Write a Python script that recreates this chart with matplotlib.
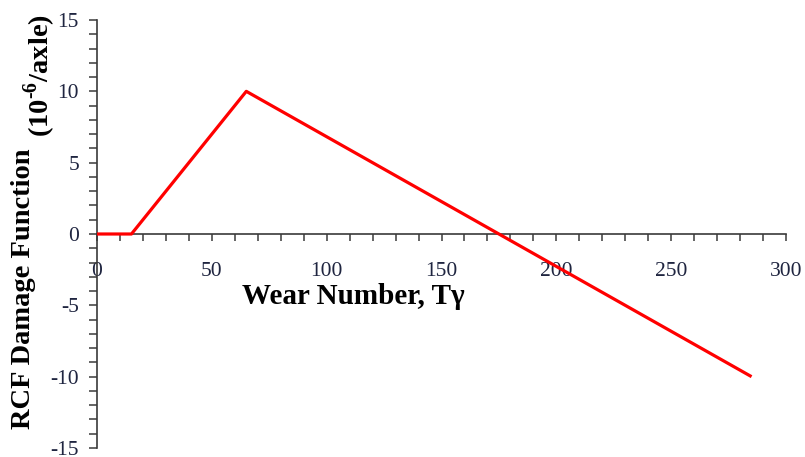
import matplotlib
matplotlib.use("Agg")
import matplotlib.pyplot as plt
from matplotlib.ticker import MultipleLocator

# Data
wear_number = [0, 15, 65, 285]
damage = [0, 0, 10, -10]
x_ticks = [0, 50, 100, 150, 200, 250, 300]
y_ticks = [-15, -10, -5, 0, 5, 10, 15]

plt.rcParams['font.family'] = ['Liberation Serif', 'DejaVu Serif']
plt.rcParams['axes.unicode_minus'] = False
plt.rcParams['mathtext.fontset'] = 'custom'
plt.rcParams['mathtext.rm'] = 'Liberation Serif:bold'
plt.rcParams['mathtext.bf'] = 'Liberation Serif:bold'

W, H = 805, 457
fig = plt.figure(figsize=(W / 100, H / 100), dpi=100)
ax = fig.add_axes([97 / W, 1 - 448 / H, (786 - 97) / W, (448 - 20) / H])

ax.plot(wear_number, damage, color='#ff0000', lw=2.3, solid_capstyle='butt', zorder=3)

ax.set_xlim(0, 300)
ax.set_ylim(-15, 15)
ax.spines['left'].set_position(('data', 0))
ax.spines['bottom'].set_position(('data', 0))
ax.spines['top'].set_visible(False)
ax.spines['right'].set_visible(False)
for s in ('left', 'bottom'):
    ax.spines[s].set_color('#3a3a3a')
    ax.spines[s].set_linewidth(1.2)

ax.set_xticks(x_ticks)
ax.set_yticks(y_ticks)
ax.xaxis.set_minor_locator(MultipleLocator(10))
ax.yaxis.set_minor_locator(MultipleLocator(1))
tick_col = '#1f2540'
ax.tick_params(axis='x', which='both', direction='out', length=5, width=1.1,
               color='#3a3a3a', labelsize=15.5, pad=15, labelcolor=tick_col)
ax.tick_params(axis='y', which='both', direction='out', length=6, width=1.1,
               color='#3a3a3a', labelsize=15.5, pad=7, labelcolor=tick_col)

fig.text(353 / W, 1 - 297 / H, 'Wear Number, T\u03b3', fontsize=21, fontweight='bold',
         ha='center', va='center')
fig.text(24 / W, 1 - 289 / H, 'RCF Damage Function', fontsize=20.5, fontweight='bold',
         rotation=90, ha='center', va='center')
fig.text(40 / W, 1 - 76 / H, r'(10$^{\text{-6}}$/axle)', fontsize=20.5, fontweight='bold',
         rotation=90, ha='center', va='center')

fig.savefig('out.png', dpi=100)
